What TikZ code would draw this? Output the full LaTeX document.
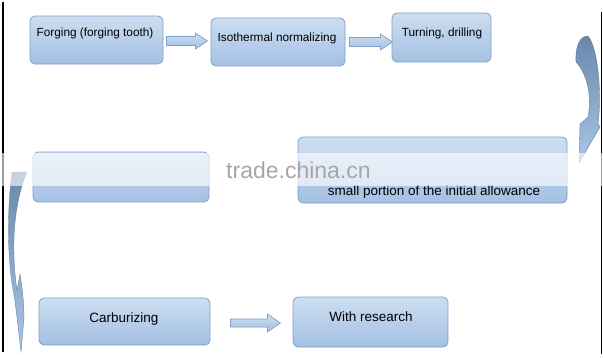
\documentclass[tikz,border=0pt]{standalone}
\usepackage{fontspec}
\setmainfont{Liberation Sans}
\usetikzlibrary{calc}
\definecolor{boxtop}{HTML}{CCDEF2}
\definecolor{boxbot}{HTML}{A4C0E3}
\definecolor{boxline}{HTML}{819FC8}
\definecolor{cadark}{HTML}{6A88AC}
\definecolor{calight}{HTML}{A9C6E7}
\definecolor{wmark}{HTML}{A6A6A6}
\tikzset{
  stepbox/.style={draw=boxline, line width=0.8pt, rounded corners=5pt,
    top color=boxtop, bottom color=boxbot, inner sep=0pt},
  steptext/.style={anchor=base, inner sep=0pt, font=\fontsize{11.8}{14}\selectfont},
  bigtext/.style={steptext, font=\fontsize{13.5}{16}\selectfont},
  blockarrow/.style={draw=boxline, line width=0.7pt, line join=miter,
    top color=boxtop, bottom color=boxbot},
  curvedarrow/.style={draw=cadark!85!black, line width=0.3pt,
    top color=cadark, bottom color=calight},
  frameline/.style={line width=1.2pt, black}
}
\begin{document}
\begin{tikzpicture}[x=1pt,y=-1pt]
\useasboundingbox (0,0) rectangle (603,359);
% frame lines
\draw[frameline] (3,2) coordinate (fl1) -- (3,352) coordinate (fl2);
\draw[frameline] (601.5,12) coordinate (fr1) -- (601.5,354) coordinate (fr2);
% boxes
\node[stepbox, minimum width=133pt, minimum height=48pt] (b1) at (96.5,40) {};
\node[stepbox, minimum width=134pt, minimum height=48pt] (b2) at (278,42) {};
\node[stepbox, minimum width=99pt, minimum height=49pt] (b3) at (441.5,37.5) {};
\node[stepbox, minimum width=269pt, minimum height=66pt] (b4) at (432.5,170) {};
\node[stepbox, minimum width=176pt, minimum height=50pt] (b5) at (121,177) {};
\node[stepbox, minimum width=171pt, minimum height=47pt] (b6) at (124.5,321.5) {};
\node[stepbox, minimum width=155pt, minimum height=50pt] (b7) at (370.5,322) {};
% texts
\node[steptext] (t1) at (95,36) {Forging (forging tooth)};
\node[steptext] (t2) at (277,41.5) {Isothermal normalizing};
\node[steptext] (t3) at (442,36) {Turning, drilling};
\node[bigtext] (t4) at (434,195) {small portion of the initial allowance};
\node[bigtext] (t6) at (124,322.5) {Carburizing};
\node[bigtext] (t7) at (371,321.5) {With research};
% block arrows
\draw[blockarrow] ($(b1.east)+(3,1)$) coordinate (a1)
  -- ++(0,-4.5) -- ++(29,0) -- ++(0,-3.5) -- ++(12,8)
  -- ++(-12,8) -- ++(0,-3.5) -- ++(-29,0) -- cycle;
\draw[blockarrow] ($(b2.east)+(4,0)$) coordinate (a2)
  -- ++(0,-4.5) -- ++(31,0) -- ++(0,-3.5) -- ++(12,8)
  -- ++(-12,8) -- ++(0,-3.5) -- ++(-31,0) -- cycle;
\draw[blockarrow] ($(b6.east)+(20,1.5)$) coordinate (a3)
  -- ++(0,-4) -- ++(37,0) -- ++(0,-5) -- ++(13,9)
  -- ++(-13,9) -- ++(0,-5) -- ++(-37,0) -- cycle;
% curved arrow: b3 -> b4
\path[curvedarrow]
  (576,62) .. controls (575,46) and (580,36) .. (588,36)
  .. controls (598,48) and (602,92) .. (598,124)
  -- (600,127) -- (579,163) -- (580,124) -- (588,117)
  .. controls (592,95) and (587,74) .. (576,62) -- cycle;
% curved arrow: b5 -> b6
\path[curvedarrow]
  (12,172) .. controls (7,210) and (7,260) .. (14,295)
  .. controls (17,315) and (19,335) .. (21,352)
  -- (24,318) .. controls (24,300) and (22,288) .. (20,274)
  -- (17,290) .. controls (11,250) and (13,205) .. (27,172) -- cycle;
% watermark band
\fill[white, opacity=0.62] (0,153) rectangle (603,186);
\node[anchor=base west, inner sep=0pt, text=wmark,
  font=\fontsize{23}{26}\selectfont] (wm) at (226,178) {trade.china.cn};
\end{tikzpicture}
\end{document}
